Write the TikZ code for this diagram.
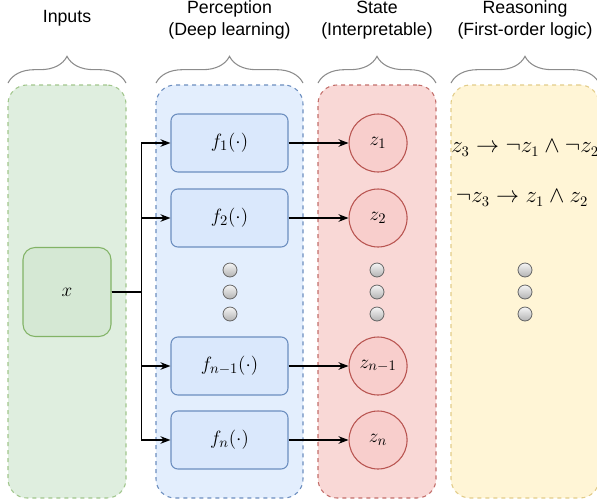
\documentclass[tikz,border=0pt]{standalone}
\usepackage{fontspec}
\setmainfont{Liberation Sans}
\usetikzlibrary{positioning, arrows.meta, decorations.pathreplacing}

\definecolor{greenfill}{HTML}{D5E8D4}
\definecolor{greenline}{HTML}{82B366}
\definecolor{bluefill}{HTML}{DAE8FC}
\definecolor{blueline}{HTML}{6C8EBF}
\definecolor{redfill}{HTML}{F8CECC}
\definecolor{redline}{HTML}{B85450}
\definecolor{yellowfill}{HTML}{FFF2CC}
\definecolor{yellowline}{HTML}{D6B656}
\definecolor{dotline}{HTML}{666666}
\definecolor{braceline}{HTML}{8C8C8C}

\begin{document}
\begin{tikzpicture}[x=0.75pt, y=-0.75pt, >=Stealth]

\tikzset{
  panel/.style={
    rectangle, rounded corners=5mm, dashed, line width=0.8pt,
    minimum height=309.75pt, inner sep=0pt
  },
  title/.style={
    align=center, font=\fontsize{13.3}{16.5}\selectfont
  },
  func/.style={
    rectangle, rounded corners=1.8mm, draw=blueline, fill=bluefill,
    line width=0.8pt, minimum width=87.75pt, minimum height=43.5pt,
    font=\fontsize{15.2}{18}\selectfont
  },
  state/.style={
    circle, draw=redline, fill=redfill, line width=0.8pt,
    minimum size=43.5pt, inner sep=0pt,
    font=\fontsize{15.2}{18}\selectfont
  },
  rule/.style={font=\fontsize{16}{19}\selectfont},
  dot/.style={
    circle, draw=dotline, top color=white!96!black, bottom color=black!30,
    line width=0.6pt, minimum size=10.5pt, inner sep=0pt
  },
  arrow/.style={->, line width=1pt},
  brace/.style={
    draw=braceline, line width=0.8pt,
    decorate, decoration={brace, amplitude=20pt}
  }
}
\useasboundingbox (0,0) rectangle (597,501);

% ==========================
% Dashed panels
% ==========================
\node[panel, draw=greenline!75!white, fill=greenfill!75!white,
  minimum width=88.5pt] (inpanel) at (67,291.5) {};
\node[panel, draw=blueline, fill=bluefill!75!white,
  minimum width=110.25pt] (perpanel) at (229.5,291.5) {};
\node[panel, draw=redline!85!white, fill=redfill!80!white,
  minimum width=88.5pt] (statepanel) at (377,291.5) {};
\node[panel, draw=yellowline!70!white, fill=yellowfill!80!white,
  minimum width=111pt] (reaspanel) at (525,291.5) {};

% ==========================
% Braces + titles
% ==========================
\draw[brace] (8,83) -- (126,83);
\draw[brace] (156,83) -- (303,83);
\draw[brace] (318,83) -- (436,83);
\draw[brace] (451,83) -- (599,83);

\node[title] (tin) at (67,18) {Inputs};
\node[title] (tper) at (229.5,20) {Perception\\(Deep learning)};
\node[title] (tstate) at (377,20) {State\\(Interpretable)};
\node[title] (treas) at (525,20) {Reasoning\\(First-order logic)};

% ==========================
% Input
% ==========================
\node[rectangle, rounded corners=3.2mm, draw=greenline, fill=greenfill,
  line width=0.8pt, minimum width=66pt, minimum height=66.75pt,
  font=\fontsize{15.2}{18}\selectfont] (x) at (67,292) {$x$};

% ==========================
% Perception -> state
% ==========================
\node[func] (f1) at (229.5,143) {$f_1(\cdot)$};
\node[func] (f2) at (229.5,218) {$f_2(\cdot)$};
\node[func] (fm) at (229.5,366) {$f_{n-1}(\cdot)$};
\node[func] (fn) at (229.5,440) {$f_n(\cdot)$};

\node[state, right=45pt of f1] (z1) {$z_1$};
\node[state, right=45pt of f2] (z2) {$z_2$};
\node[state, right=45pt of fm] (zm) {$z_{n-1}$};
\node[state, right=45pt of fn] (zn) {$z_n$};

\foreach \f/\z in {f1/z1, f2/z2, fm/zm, fn/zn}
  \draw[arrow] (\f.east) -- (\z.west);

% input fans out to every f
\coordinate (bus) at ([xshift=22.5pt]x.east);
\foreach \f in {f1, f2, fm, fn}
  \draw[arrow] (x.east) -- (bus) |- (\f.west);

% ==========================
% Reasoning rules
% ==========================
\node[rule] (r1) at (525,148) {$z_3 \rightarrow \neg z_1 \wedge \neg z_2$};
\node[rule] (r2) at (522,198) {$\neg z_3 \rightarrow z_1 \wedge z_2$};

% ==========================
% Ellipsis dots
% ==========================
\foreach \c/\xx in {p/230, s/377, r/525}
  \foreach \i/\yy in {1/270, 2/292, 3/314}
    \node[dot] (dot\c\i) at (\xx,\yy) {};

\end{tikzpicture}
\end{document}
